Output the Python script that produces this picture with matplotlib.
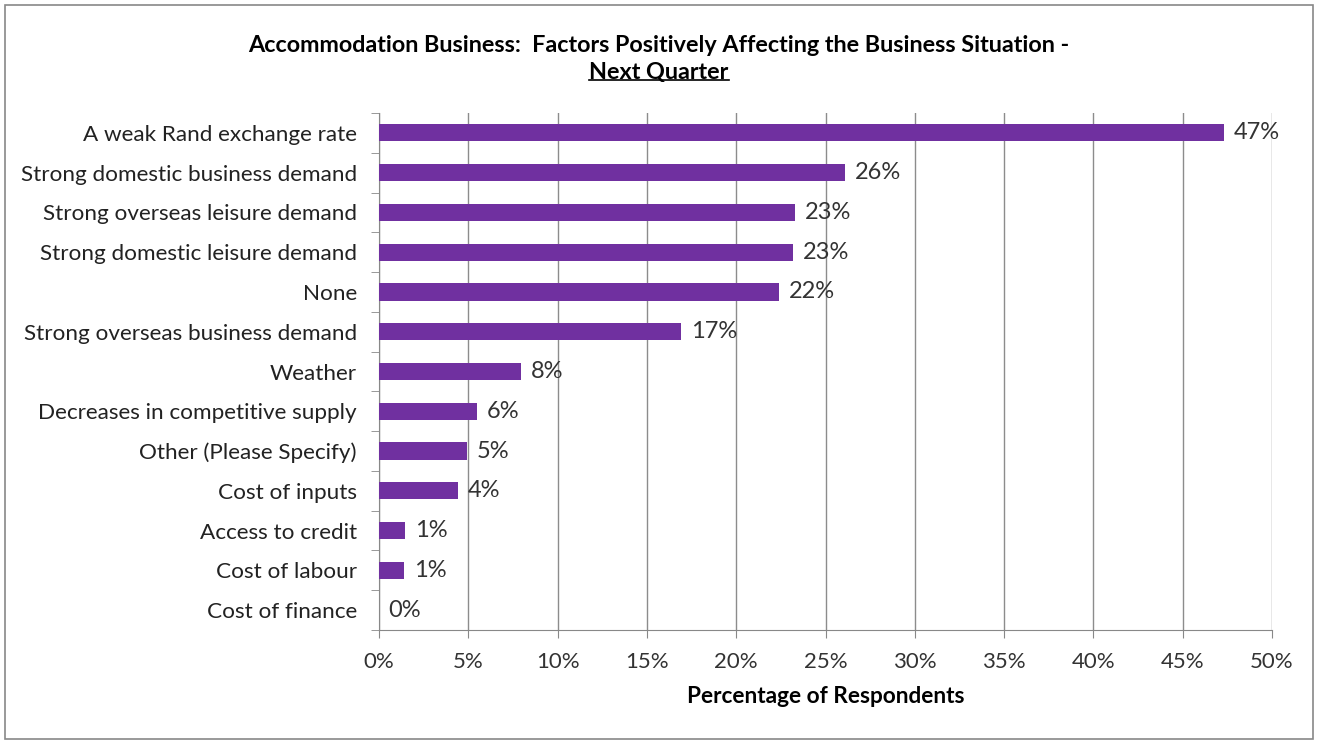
import matplotlib
matplotlib.use("Agg")
import matplotlib.pyplot as plt
from matplotlib.patches import Rectangle
import numpy as np

plt.rcParams['font.family'] = ['Lato', 'DejaVu Sans']

categories = ["A weak Rand exchange rate", "Strong domestic business demand",
              "Strong overseas leisure demand", "Strong domestic leisure demand",
              "None", "Strong overseas business demand", "Weather",
              "Decreases in competitive supply", "Other (Please Specify)",
              "Cost of inputs", "Access to credit", "Cost of labour", "Cost of finance"]
values = [47.3, 26.1, 23.3, 23.2, 22.4, 16.9, 7.95, 5.5, 4.9, 4.4, 1.45, 1.4, 0.0]
labels = ["47%", "26%", "23%", "23%", "22%", "17%", "8%", "6%", "5%", "4%", "1%", "1%", "0%"]
xticks = [0, 5, 10, 15, 20, 25, 30, 35, 40, 45, 50]
title1 = "Accommodation Business:  Factors Positively Affecting the Business Situation -"
title2 = "Next Quarter"
xlabel = "Percentage of Respondents"

W, H = 1318, 744
fig = plt.figure(figsize=(W/100, H/100), dpi=100)
ax = fig.add_axes([379/W, 1-630/H, (1272-379)/W, (630-113)/H])

n = len(categories)
y = np.arange(n)
ax.barh(y, values, height=0.43, color="#7030A0", zorder=3)
for yi, v, lab in zip(y, values, labels):
    ax.annotate(lab, (v, yi), xytext=(7, 0), textcoords="offset points",
                va="center", ha="left", fontsize=17, color="#333333", zorder=4)

ax.set_ylim(n-0.5, -0.5)
ax.set_xlim(0, 50)
ax.set_yticks(y)
ax.set_yticklabels(categories, fontsize=16.2, color="#222222")
ax.set_yticks(np.arange(n+1)-0.5, minor=True)
ax.tick_params(axis='y', which='major', length=0, pad=16)
ax.tick_params(axis='y', which='minor', length=6, color="#888888", direction='out')
ax.set_xticks(xticks)
ax.set_xticklabels([f"{t}%" for t in xticks], fontsize=16, color="#333333")
ax.tick_params(axis='x', length=6, color="#888888", pad=10)
ax.grid(axis='x', color="#8c8c8c", linewidth=1, zorder=0)
for s in ['top', 'right']:
    ax.spines[s].set_visible(False)
for s in ['left', 'bottom']:
    ax.spines[s].set_color("#888888")
ax.set_xlabel(xlabel, fontsize=16.3, fontweight='bold', labelpad=10)

fig.text(0.5, 1-46/H, title1, ha='center', va='center', fontsize=16.8, fontweight='bold')
t2 = fig.text(0.5, 1-72/H, title2, ha='center', va='center', fontsize=16.8, fontweight='bold')

fig.patches.append(Rectangle((5/W, 5/H), 1-10/W, 1-10/H, transform=fig.transFigure,
                             fill=False, edgecolor="#888888", linewidth=1.2))

fig.canvas.draw()
bb = t2.get_window_extent().transformed(fig.transFigure.inverted())
fig.add_artist(plt.Line2D([bb.x0, bb.x1], [bb.y0 + 0.003, bb.y0 + 0.003],
                          transform=fig.transFigure, color="black", linewidth=1.2))

fig.savefig("out.png", dpi=100)
